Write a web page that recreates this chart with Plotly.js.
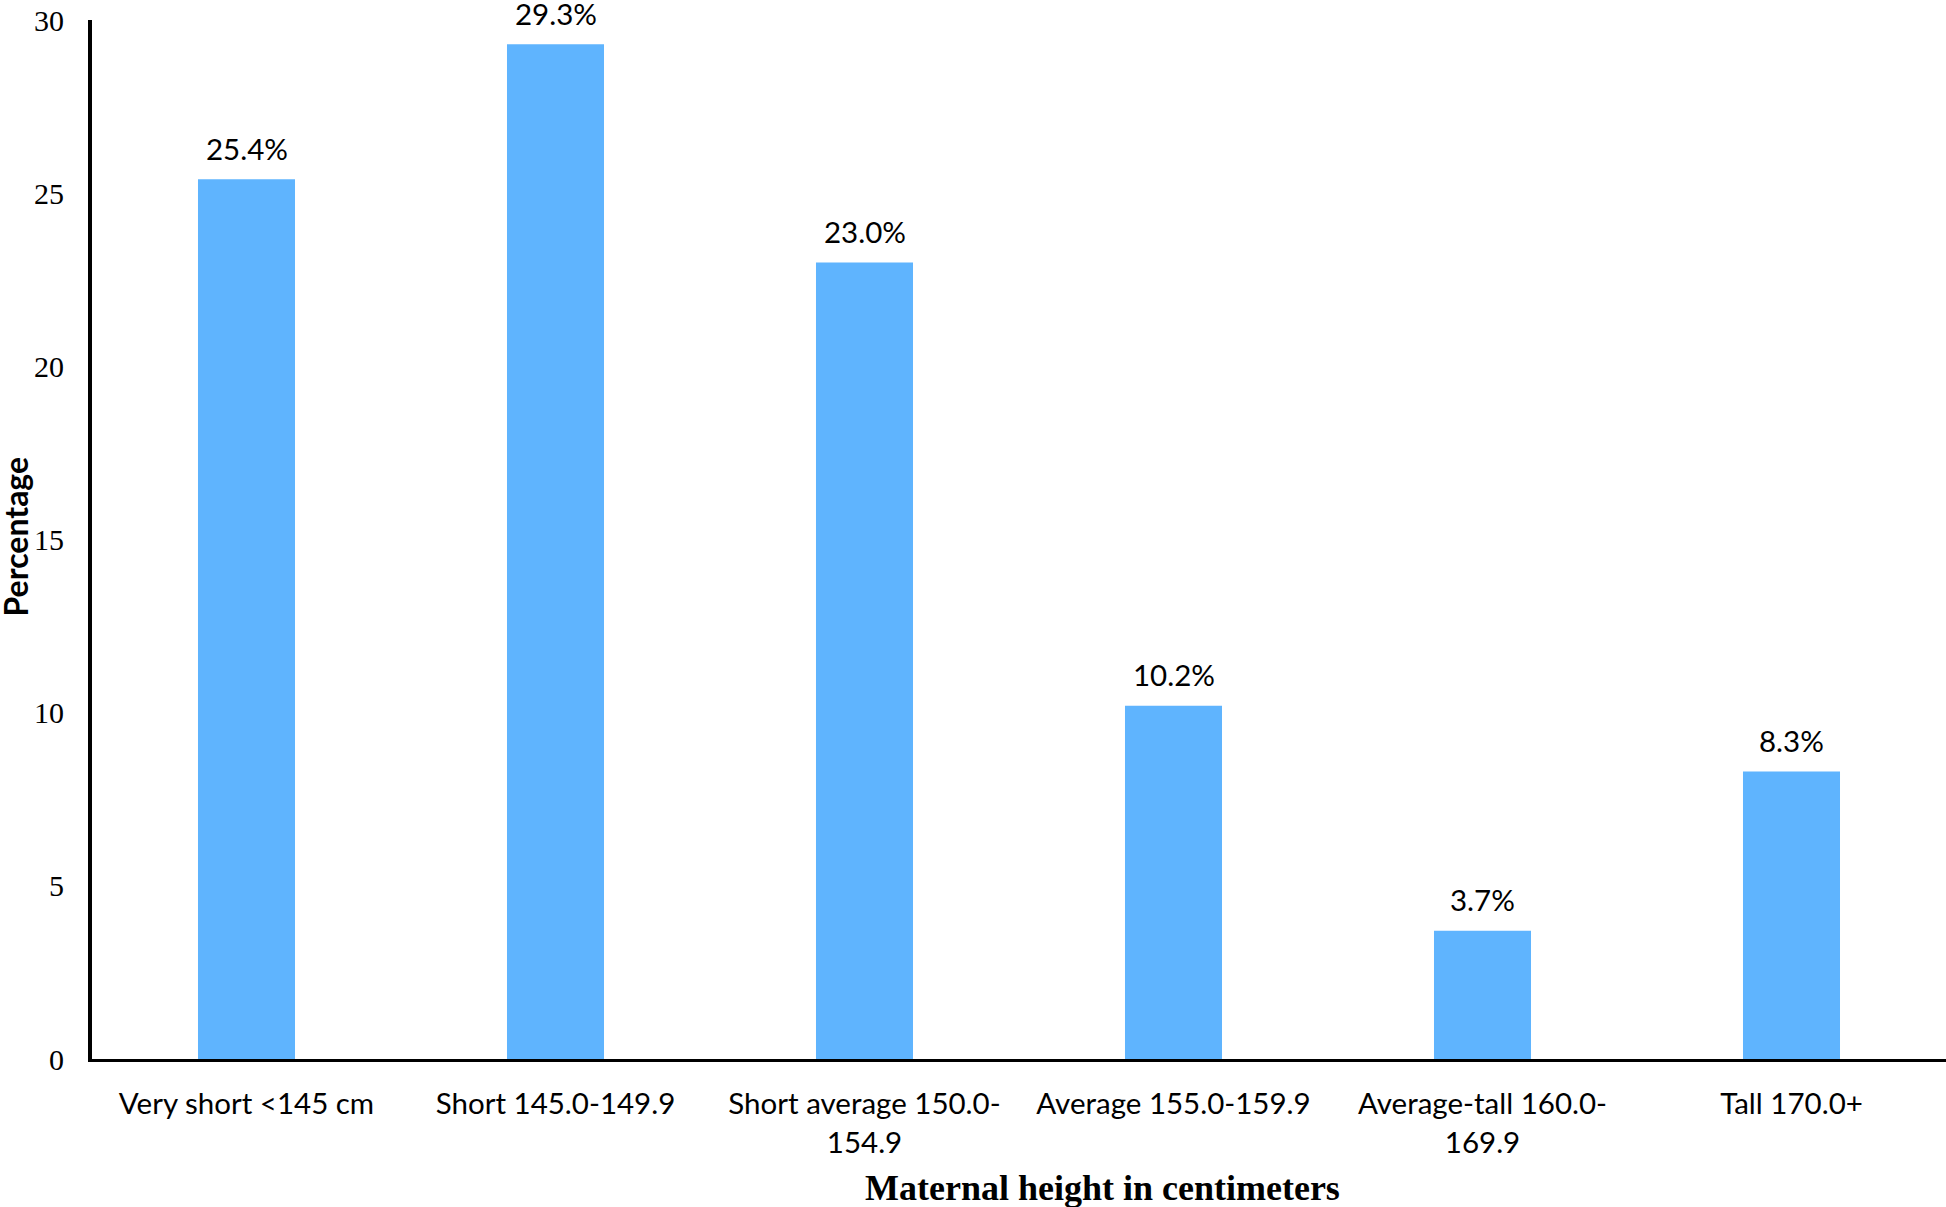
<!DOCTYPE html>
<html>
<head>
<meta charset="utf-8">
<script src="https://cdn.plot.ly/plotly-3.0.1.min.js"></script>
<style>
	html, body { margin: 0; padding: 0; background: #ffffff; }
	#plotContainer { width: 1946px; height: 1207px; }
</style>
</head>
<body>
<div id="plotContainer"></div>
<script>

// height categories (x axis), wrapped like the original
const categories = [
	'Very short <145 cm',
	'Short 145.0-149.9',
	'Short average 150.0-<br>154.9',
	'Average 155.0-159.9',
	'Average-tall 160.0-<br>169.9',
	'Tall 170.0+'
];

// percentage of women in each group
const percentages = [ 25.4, 29.3, 23.0, 10.2, 3.7, 8.3 ];

// labels drawn above the bars
const barLabels = [ '25.4%', '29.3%', '23.0%', '10.2%', '3.7%', '8.3%' ];

const yTicks = [ 0, 5, 10, 15, 20, 25, 30 ];

/**
 * Draws the maternal height bar chart.
 */
function createHeightChart() {

	const trace = {
		x: categories,
		y: percentages,
		type: 'bar',
		marker: { color: '#5fb4fe' },
		hoverinfo: 'none'
	};

	// value labels sit a little above each bar
	let labels = [ ];

	for ( let i = 0; i < categories.length; i++ ) {

		labels.push( {
			x: categories[ i ],
			y: percentages[ i ],
			text: barLabels[ i ],
			showarrow: false,
			yanchor: 'middle',
			yshift: 31,
			font: { family: 'Lato, sans-serif', size: 29.5, color: '#000000' }
		} );

	}

	// axis titles placed by hand, the original is a bit off centre
	labels.push( {
		xref: 'paper',
		yref: 'paper',
		x: 0.5453,
		y: -0.124,
		xanchor: 'center',
		yanchor: 'middle',
		showarrow: false,
		text: '<b>Maternal height in centimeters</b>',
		font: { family: '"Liberation Serif", "Times New Roman", serif', size: 36, color: '#000000' }
	} );

	labels.push( {
		xref: 'paper',
		yref: 'paper',
		x: -0.0415,
		y: 0.503,
		xanchor: 'center',
		yanchor: 'middle',
		textangle: -90,
		showarrow: false,
		text: '<b>Percentage</b>',
		font: { family: 'Lato, sans-serif', size: 32, color: '#000000' }
	} );

	const layout = {
		width: 1946,
		height: 1207,
		margin: { l: 92, r: 0, t: 20, b: 148 },
		paper_bgcolor: '#ffffff',
		plot_bgcolor: '#ffffff',
		showlegend: false,
		bargap: 0.686,
		xaxis: {
			type: 'category',
			showline: true,
			linecolor: '#000000',
			linewidth: 3,
			showgrid: false,
			zeroline: false,
			ticks: '',
			ticklabelstandoff: 17,
			tickfont: { family: 'Lato, sans-serif', size: 29.5, color: '#000000' }
		},
		yaxis: {
			range: [ 0, 30 ],
			tickvals: yTicks,
			showline: true,
			linecolor: '#000000',
			linewidth: 4,
			showgrid: false,
			zeroline: false,
			ticks: '',
			ticklabelstandoff: 18,
			tickfont: { family: '"Liberation Serif", "Times New Roman", serif', size: 30, color: '#000000' }
		},
		annotations: labels
	};

	Plotly.newPlot( 'plotContainer', [ trace ], layout, { displayModeBar: false, staticPlot: true } );

}

createHeightChart();

</script>
</body>
</html>
